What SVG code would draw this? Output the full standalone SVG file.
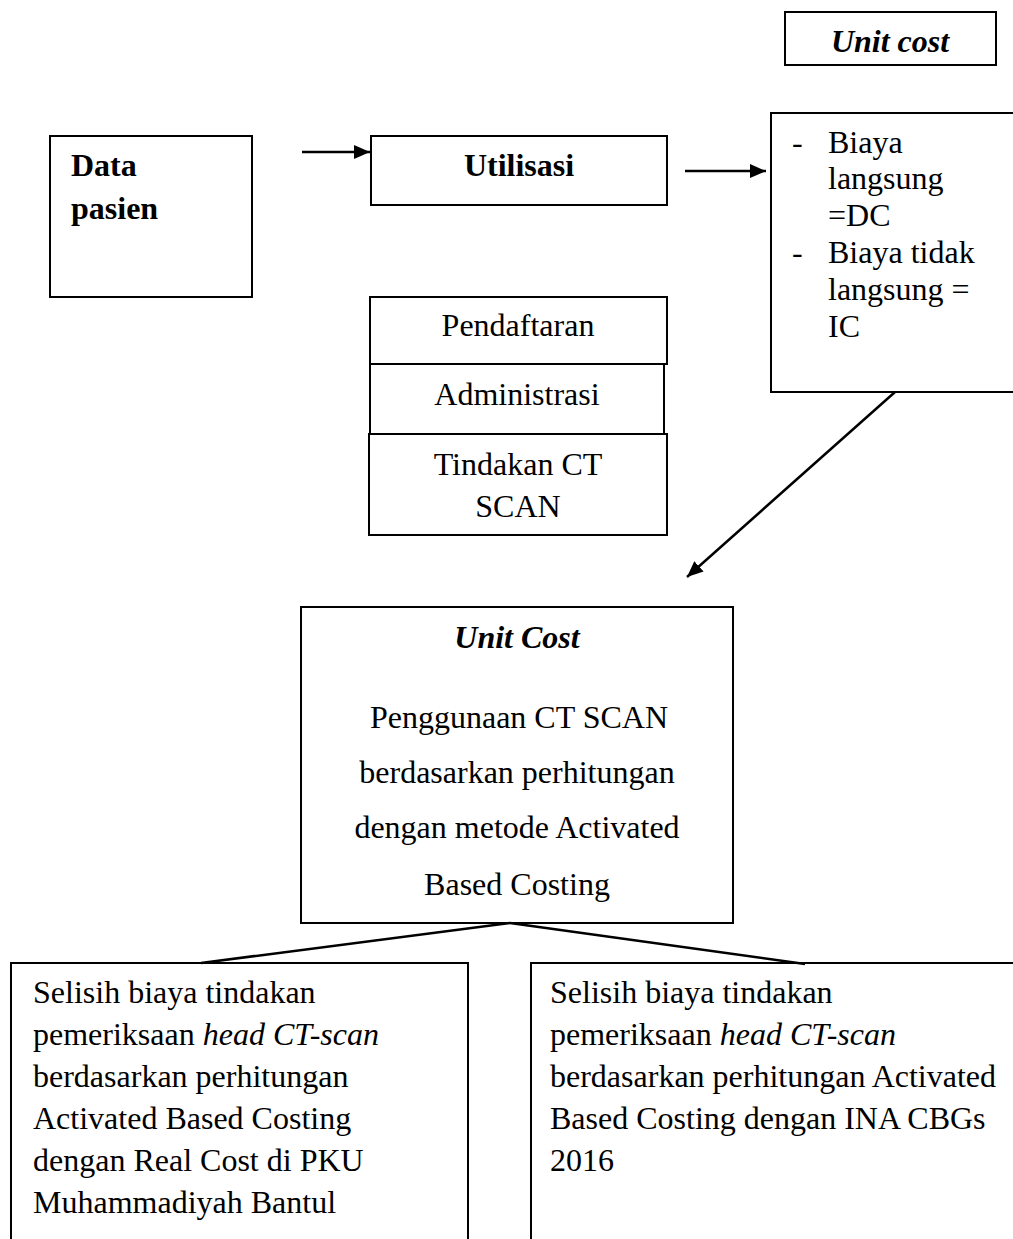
<svg xmlns="http://www.w3.org/2000/svg" width="1013" height="1239" viewBox="0 0 1013 1239">
<defs>
<style>
.box{fill:#fff;stroke:#000;stroke-width:2}
.t{font-family:"Liberation Serif","Times New Roman",serif;font-size:32px;fill:#000}
.b{font-weight:bold}
.i{font-style:italic}
.c{text-anchor:middle}
.conn{stroke:#000;stroke-width:2.5;fill:none}
</style>
<marker id="ah" markerUnits="userSpaceOnUse" markerWidth="18" markerHeight="14" refX="16" refY="7" orient="auto">
<path d="M0,0 L16,7 L0,14 Z" fill="#000"/>
</marker>
</defs>
<rect width="1013" height="1239" fill="#fff"/>

<g id="unit-cost-label">
<rect class="box" x="785" y="12" width="211" height="53"/>
<text class="t b i c" x="890" y="52">Unit cost</text>
</g>

<g id="data-pasien">
<rect class="box" x="50" y="136" width="202" height="161"/>
<text class="t b" x="71" y="176">Data</text>
<text class="t b" x="71" y="219">pasien</text>
</g>

<g id="utilisasi">
<rect class="box" x="371" y="136" width="296" height="69"/>
<text class="t b c" x="519" y="176">Utilisasi</text>
</g>

<g id="biaya">
<rect class="box" x="771" y="113" width="260" height="279"/>
<text class="t" x="792" y="153">-</text>
<text class="t" x="828" y="153">Biaya</text>
<text class="t" x="828" y="189">langsung</text>
<text class="t" x="828" y="226">=DC</text>
<text class="t" x="792" y="263">-</text>
<text class="t" x="828" y="263">Biaya tidak</text>
<text class="t" x="828" y="300">langsung =</text>
<text class="t" x="828" y="337">IC</text>
</g>

<g id="pendaftaran">
<rect class="box" x="370" y="297" width="297" height="67"/>
<text class="t c" x="518" y="336">Pendaftaran</text>
</g>
<g id="administrasi">
<rect class="box" x="370" y="364" width="294" height="70"/>
<text class="t c" x="517" y="405">Administrasi</text>
</g>
<g id="tindakan">
<rect class="box" x="369" y="434" width="298" height="101"/>
<text class="t c" x="518" y="475">Tindakan CT</text>
<text class="t c" x="518" y="517">SCAN</text>
</g>

<g id="unit-cost">
<rect class="box" x="301" y="607" width="432" height="316"/>
<text class="t b i c" x="517" y="648">Unit Cost</text>
<text class="t c" x="519" y="728">Penggunaan CT SCAN</text>
<text class="t c" x="517" y="783">berdasarkan perhitungan</text>
<text class="t c" x="517" y="838">dengan metode Activated</text>
<text class="t c" x="517" y="895">Based Costing</text>
</g>

<g id="selisih-real-cost">
<rect class="box" x="11" y="963" width="457" height="300"/>
<text class="t" x="33" y="1003">Selisih biaya tindakan</text>
<text class="t" x="33" y="1045">pemeriksaan <tspan class="i">head CT-scan</tspan></text>
<text class="t" x="33" y="1087">berdasarkan perhitungan</text>
<text class="t" x="33" y="1129">Activated Based Costing</text>
<text class="t" x="33" y="1171">dengan Real Cost di PKU</text>
<text class="t" x="33" y="1213">Muhammadiyah Bantul</text>
</g>

<g id="selisih-ina-cbgs">
<rect class="box" x="531" y="963" width="500" height="300"/>
<text class="t" x="550" y="1003">Selisih biaya tindakan</text>
<text class="t" x="550" y="1045">pemeriksaan <tspan class="i">head CT-scan</tspan></text>
<text class="t" x="550" y="1087">berdasarkan perhitungan Activated</text>
<text class="t" x="550" y="1129">Based Costing dengan INA CBGs</text>
<text class="t" x="550" y="1171">2016</text>
</g>

<g id="connectors">
<line class="conn" x1="302" y1="152" x2="370" y2="152" marker-end="url(#ah)"/>
<line class="conn" x1="685" y1="171" x2="766" y2="171" marker-end="url(#ah)"/>
<line class="conn" x1="895" y1="392" x2="687" y2="577" marker-end="url(#ah)"/>
<line class="conn" x1="510" y1="923" x2="201" y2="963"/>
<line class="conn" x1="510" y1="923" x2="805" y2="964"/>
</g>
</svg>
